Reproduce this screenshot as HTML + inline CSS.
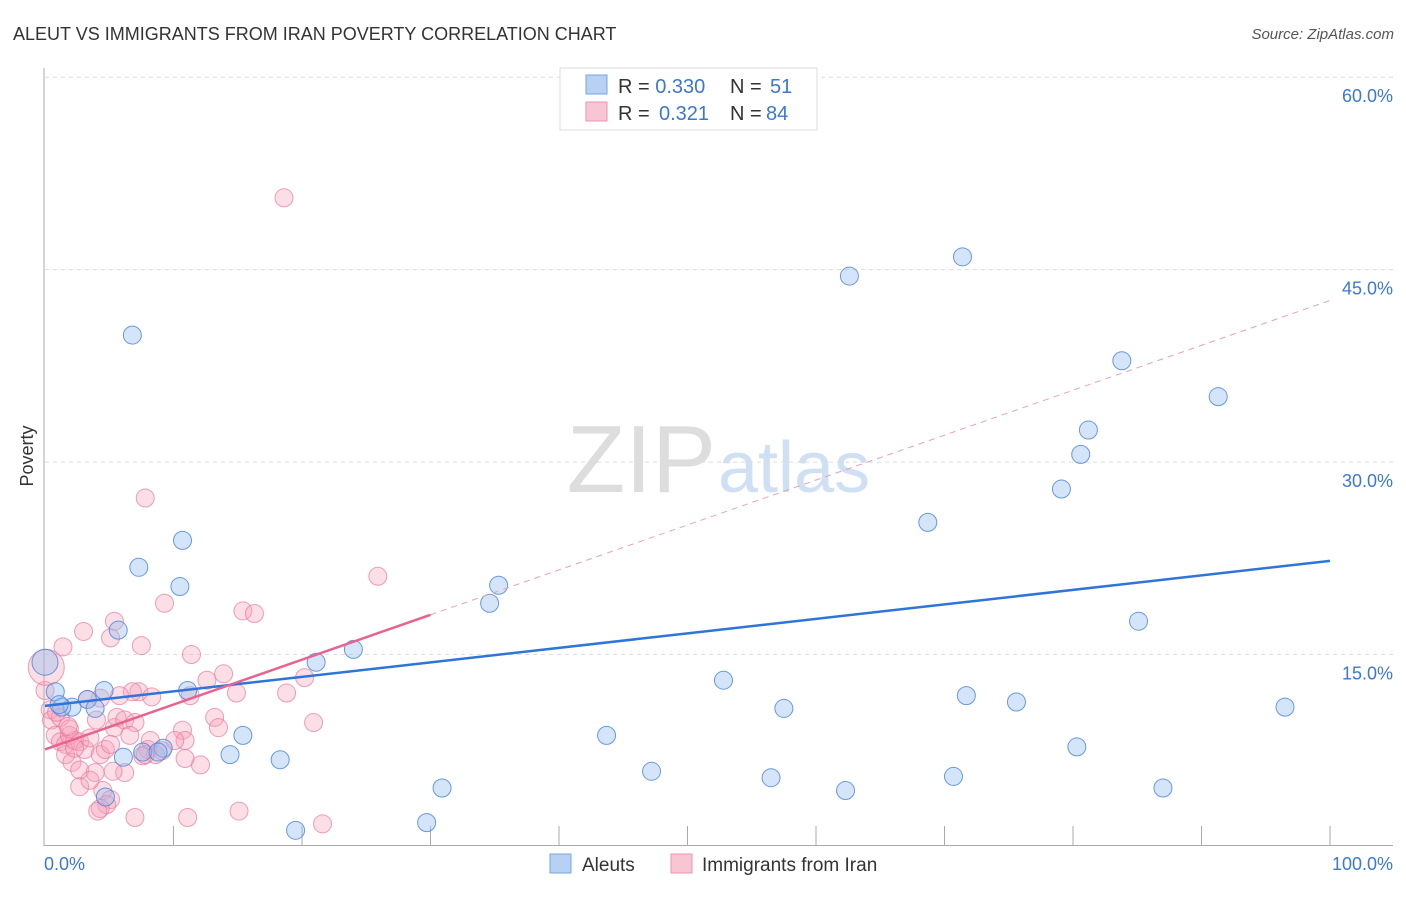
<!DOCTYPE html>
<html><head><meta charset="utf-8"><style>
body{margin:0;background:#fff;font-family:"Liberation Sans",sans-serif;}
svg text{font-family:"Liberation Sans",sans-serif;}
</style></head><body>
<svg id="chart" width="1406" height="892" xmlns="http://www.w3.org/2000/svg">
<text x="13" y="40" font-size="18" fill="#333">ALEUT VS IMMIGRANTS FROM IRAN POVERTY CORRELATION CHART</text>
<text x="1394" y="39" font-size="15" fill="#555" font-style="italic" text-anchor="end">Source: ZipAtlas.com</text>
<text x="716" y="492" font-size="96" fill="#ddd" text-anchor="end" font-family="Liberation Serif">ZIP</text>
<text x="718" y="492" font-size="72" fill="#cfe0f5">atlas</text>
<text transform="translate(33,456) rotate(-90)" font-size="18" fill="#333" text-anchor="middle">Poverty</text>
<g id="grid"></g>
<g id="axes"></g>
<g id="pts"></g>
<g id="lines"></g>
<g>
<rect x="560" y="68" width="257" height="62" fill="#fff" stroke="#ddd"/>
<rect x="586" y="75" width="21" height="19" fill="#b7d0f3" stroke="#7aa5e3"/>
<text x="618" y="93" font-size="20" fill="#333">R = <tspan fill="#3a78d4">0.330</tspan><tspan x="730">N = </tspan><tspan x="770" fill="#3a78d4">51</tspan></text>
<rect x="586" y="102" width="21" height="19" fill="#f8c5d3" stroke="#ee93b0"/>
<text x="618" y="120" font-size="20" fill="#333">R = <tspan x="659" fill="#3a78d4">0.321</tspan><tspan x="730">N = </tspan><tspan x="766" fill="#3a78d4">84</tspan></text>
</g>
<g>
<rect x="550" y="854" width="21" height="19" fill="#b7d0f3" stroke="#7aa5e3"/>
<text x="582" y="871" font-size="19" fill="#333">Aleuts</text>
<rect x="671" y="854" width="21" height="19" fill="#f8c5d3" stroke="#ee93b0"/>
<text x="702" y="871" font-size="19" fill="#333">Immigrants from Iran</text>
</g>
</svg>
<script>
const yTicks=[15,30,45,60];
const yTickLabels=["15.0%","30.0%","45.0%","60.0%"];
const xTickVals=[0,10,20,30,40,50,60,70,80,90,100];
const blueX=[6.8,62.6,71.4,83.8,91.3,81.2,80.6,79.1,68.7,10.7,7.3,10.5,35.3,34.6,5.7,85.1,24.0,21.1,52.8,71.7,75.6,57.5,96.5,4.6,11.1,0.8,3.3,2.1,3.9,1.3,15.4,43.7,80.3,14.4,18.3,6.1,7.6,9.2,8.8,47.2,56.5,70.7,30.9,87.0,62.3,4.7,19.5,29.7,1.1,0];
const blueY=[39.9,44.5,46.0,37.9,35.1,32.5,30.6,27.9,25.3,23.9,21.8,20.3,20.4,19.0,16.9,17.6,15.4,14.4,13.0,11.8,11.3,10.8,10.9,12.2,12.2,12.1,11.5,10.9,10.8,10.9,8.7,8.7,7.8,7.2,6.8,7.0,7.4,7.7,7.4,5.9,5.4,5.5,4.6,4.6,4.4,3.9,1.3,1.9,11.1,14.4];
const pinkX=[18.6,7.8,25.9,9.3,15.4,16.3,5.4,3.0,1.4,7.5,5.1,11.4,13.9,20.2,12.6,14.9,18.8,7.3,8.3,11.3,4.3,0,0.4,0.5,0.8,1.2,1.6,1.9,2.3,2.7,3.1,3.5,1.6,2.1,2.7,4.3,4.7,5.4,5.6,6.2,7.0,6.6,8.0,8.6,10.7,10.9,13.2,13.5,20.9,3.9,2.7,4.5,5.1,4.8,4.3,6.2,5.3,12.1,10.9,7.6,7.0,11.1,15.1,21.6,10.1,1.2,1.9,3.5,2.3,0.9,1.8,3.3,4.1,6.8,7.8,8.2,5.1,5.8,9.1,4.0,0.1];
const pinkY=[50.6,27.2,21.1,19.0,18.4,18.2,17.6,16.8,15.6,15.7,16.3,15.0,13.5,13.2,13.0,12.0,12.0,12.1,11.7,11.8,11.6,12.2,10.7,9.9,8.7,8.2,8.0,8.7,8.3,8.2,7.6,8.5,7.2,6.6,6.0,7.2,7.6,9.3,10.1,9.9,9.7,8.7,7.6,7.2,9.1,8.3,10.1,9.3,9.7,5.8,4.7,4.4,3.7,3.3,3.0,5.8,5.9,6.4,6.9,7.1,2.3,2.3,2.8,1.8,8.3,10.1,9.2,5.2,7.7,10.5,9.4,11.5,2.8,12.1,7.2,8.3,8.0,11.8,7.5,9.9,14.0];
const blueTrend=[11.0,22.3];
const pinkTrend=[7.6,42.6];
const pinkSolidEnd=30;
const NS='http://www.w3.org/2000/svg';
const X=v=>45+v*12.85, Y=v=>847-v*12.83;
function mk(tag,attrs,parent){const e=document.createElementNS(NS,tag);for(const k in attrs)e.setAttribute(k,attrs[k]);parent.appendChild(e);return e;}
const gridG=document.getElementById('grid'),axesG=document.getElementById('axes'),ptsG=document.getElementById('pts'),linesG=document.getElementById('lines');
yTicks.forEach((t,i)=>{
 const l=mk('line',{x1:45,x2:1393,y1:Y(t),y2:Y(t),stroke:'#ddd','stroke-dasharray':'4,4'},gridG);
 
 
 const tx=mk('text',{x:1393,y:Y(t)+25,'font-size':18,fill:'#3a78d4','text-anchor':'end'},gridG);
 tx.textContent=yTickLabels[i];
 
 
});
const yAxisLine=mk('line',{x1:44,x2:44,y1:68,y2:846,stroke:'#aaa'},axesG);


const xAxisLine=mk('line',{x1:44,x2:1393,y1:845.5,y2:845.5,stroke:'#aaa'},axesG);


xTickVals.forEach(v=>{if(v===0)return;
 const t=mk('line',{x1:X(v),x2:X(v),y1:826,y2:845,stroke:'#aaa'},axesG);
 
 
});
const xl0=mk('text',{x:44,y:870,'font-size':18,fill:'#3a78d4'},axesG);xl0.textContent='0.0%';


const xl1=mk('text',{x:1393,y:870,'font-size':18,fill:'#3a78d4','text-anchor':'end'},axesG);xl1.textContent='100.0%';


pinkX.forEach((x,i)=>{
 const c=mk('circle',{cx:X(x),cy:Y(pinkY[i]),r:(i===pinkX.length-1)?18:9,fill:'rgba(245,160,185,0.35)',stroke:'rgba(232,120,155,0.7)','stroke-width':1},ptsG);
 
 
});
blueX.forEach((x,i)=>{
 const c=mk('circle',{cx:X(x),cy:Y(blueY[i]),r:(i===blueX.length-1)?13:9,fill:'rgba(150,190,240,0.4)',stroke:'rgba(70,130,215,0.8)','stroke-width':1},ptsG);
 
 
});
const bl=mk('line',{x1:X(0),y1:Y(blueTrend[0]),x2:X(100),y2:Y(blueTrend[1]),stroke:'#2f74d8','stroke-width':2.5},linesG);


const pe=pinkTrend[0]+(pinkTrend[1]-pinkTrend[0])*pinkSolidEnd/100;
const pl=mk('line',{x1:X(0),y1:Y(pinkTrend[0]),x2:X(pinkSolidEnd),y2:Y(pe),stroke:'#e8638f','stroke-width':2.5},linesG);


const pd=mk('line',{x1:X(pinkSolidEnd),y1:Y(pe),x2:X(100),y2:Y(pinkTrend[1]),stroke:'#eaa0b8','stroke-width':1,'stroke-dasharray':'6,5'},linesG);


</script>
</body></html>
